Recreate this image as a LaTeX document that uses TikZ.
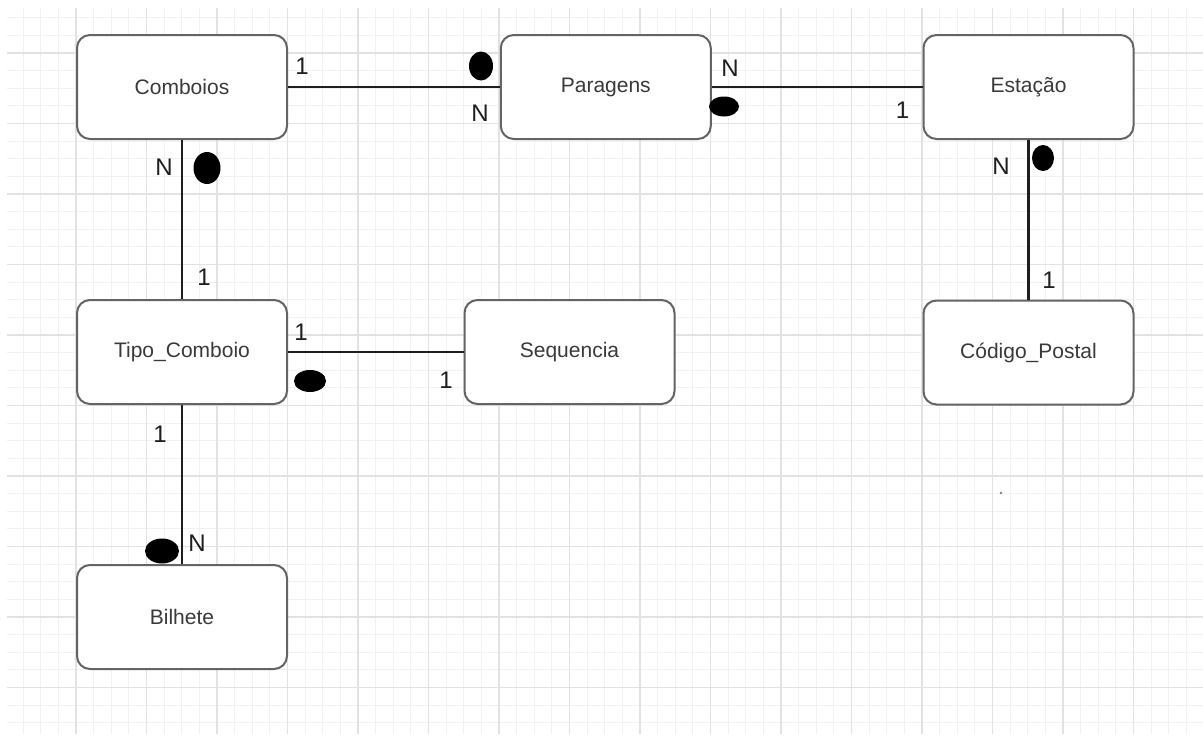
\documentclass[tikz,border=0pt]{standalone}
\usepackage{fontspec}
\setmainfont{Liberation Sans}
\definecolor{boxgray}{HTML}{646464}
\definecolor{textgray}{HTML}{3A3A3A}
\definecolor{linedark}{HTML}{1E1E1E}
\definecolor{minorgrid}{HTML}{F1F1F1}
\definecolor{majorgrid}{HTML}{E2E2E2}
\begin{document}
\begin{tikzpicture}[x=1pt,y=-1pt,
  entity/.style={draw=boxgray, line width=2pt, rounded corners=13pt, fill=white,
    minimum width=210pt, minimum height=104pt, inner sep=0pt,
    font=\fontsize{21}{24}\selectfont, text=textgray},
  rel/.style={line width=2.8pt, draw=linedark},
  card/.style={font=\fontsize{24}{28}\selectfont, text=linedark, inner sep=0pt},
  minorline/.style={draw=minorgrid, line width=0.8pt},
  majorline/.style={draw=majorgrid, line width=1.1pt}]
\useasboundingbox (0,0) rectangle (1203,736);
\fill[white] (0,0) rectangle (1203,736);
% grid
\begin{scope}
  \clip (7,8) rectangle (1203,733);
  \foreach \i in {0,...,68} {\draw[minorline] ({5.5+17.625*\i},0) -- ({5.5+17.625*\i},736);}
  \foreach \i in {-3,...,39} {\draw[minorline] (0,{53+17.625*\i}) -- (1203,{53+17.625*\i});}
  \foreach \i in {0,...,17} {\draw[majorline] ({5.5+70.5*\i},0) -- ({5.5+70.5*\i},736);}
  \foreach \i in {-1,...,10} {\draw[majorline] (0,{53+70.5*\i}) -- (1203,{53+70.5*\i});}
\end{scope}
\fill[gray] (1001,493) circle (1.4pt);
% entities
\node[entity] (comboios) at (182,87) {Comboios};
\node[entity] (paragens) at (605.8,87) {Paragens};
\node[entity] (estacao) at (1028.5,87) {Estação};
\node[entity] (tipo) at (182,352) {Tipo\_Comboio};
\node[entity] (seq) at (569.5,352) {Sequencia};
\node[entity] (codigo) at (1028.5,352.5) {Código\_Postal};
\node[entity] (bilhete) at (182,617) {Bilhete};
% relationships
\draw[rel] (comboios.east) -- (paragens.west);
\draw[rel] (paragens.east) -- (estacao.west);
\draw[rel] (comboios.south) -- (tipo.north);
\draw[rel] (tipo.east) -- (seq.west |- tipo.east);
\draw[rel] (tipo.south) -- (bilhete.north);
\draw[rel] (estacao.south) -- (codigo.north);
% cardinalities
\node[card] (c1) at (302,66) {1};
\node[card] (c2) at (480,113) {N};
\fill (481,66) ellipse [x radius=12pt, y radius=14.5pt];
\node[card] (c3) at (164,167) {N};
\fill (207,168) ellipse [x radius=13.5pt, y radius=16pt];
\node[card] (c4) at (730,68) {N};
\fill (724,106.5) ellipse [x radius=15pt, y radius=10pt];
\node[card] (c5) at (902.5,110) {1};
\node[card] (c6) at (1001,166) {N};
\fill (1043,158) ellipse [x radius=11pt, y radius=13pt];
\node[card] (c7) at (1049,280) {1};
\node[card] (c8) at (204,277) {1};
\node[card] (c9) at (301,332) {1};
\fill (310,381) ellipse [x radius=16pt, y radius=11pt];
\node[card] (c10) at (446,380) {1};
\node[card] (c11) at (160,434) {1};
\fill (162,551) ellipse [x radius=17pt, y radius=12.5pt];
\node[card] (c12) at (197,543) {N};
\end{tikzpicture}
\end{document}
